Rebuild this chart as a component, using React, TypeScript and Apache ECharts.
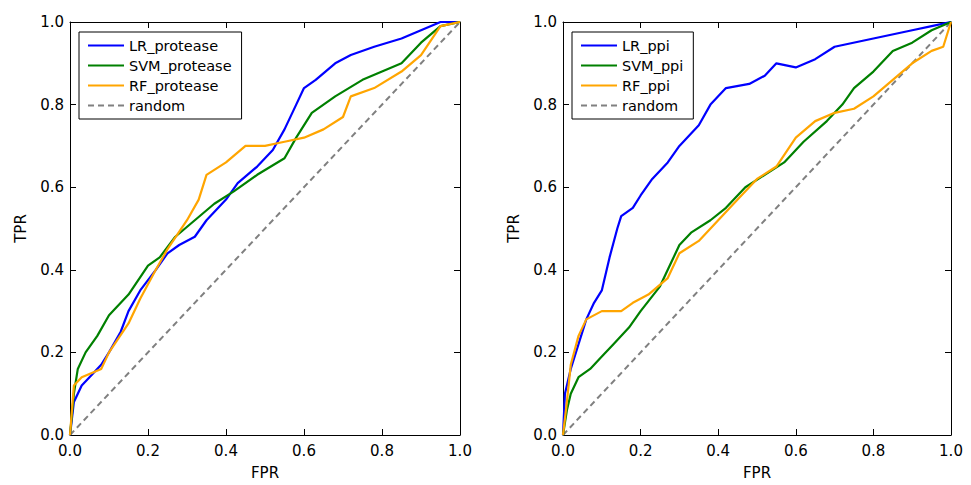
import React, { useEffect, useRef } from "react";
import * as echarts from "echarts";

const lrProtease = [[0,0],[0.01,0.08],[0.03,0.12],[0.05,0.14],[0.08,0.17],[0.1,0.2],[0.13,0.25],[0.15,0.3],[0.18,0.35],[0.22,0.4],[0.25,0.44],[0.28,0.46],[0.32,0.48],[0.35,0.52],[0.4,0.57],[0.43,0.61],[0.48,0.65],[0.52,0.69],[0.55,0.74],[0.58,0.8],[0.6,0.84],[0.63,0.86],[0.68,0.9],[0.72,0.92],[0.78,0.94],[0.85,0.96],[0.9,0.98],[0.95,1.0],[1,1]];
const svmProtease = [[0,0],[0.01,0.1],[0.02,0.16],[0.04,0.2],[0.07,0.24],[0.1,0.29],[0.15,0.34],[0.2,0.41],[0.23,0.43],[0.27,0.48],[0.32,0.52],[0.37,0.56],[0.42,0.59],[0.48,0.63],[0.55,0.67],[0.58,0.72],[0.62,0.78],[0.68,0.82],[0.75,0.86],[0.8,0.88],[0.85,0.9],[0.9,0.95],[0.95,0.99],[1,1]];
const rfProtease = [[0,0],[0.01,0.12],[0.03,0.14],[0.08,0.16],[0.1,0.2],[0.15,0.27],[0.18,0.33],[0.22,0.4],[0.25,0.45],[0.3,0.52],[0.33,0.57],[0.35,0.63],[0.4,0.66],[0.45,0.7],[0.5,0.7],[0.55,0.71],[0.6,0.72],[0.65,0.74],[0.7,0.77],[0.72,0.82],[0.78,0.84],[0.85,0.88],[0.9,0.92],[0.95,0.99],[1,1]];
const lrPpi = [[0,0],[0.005,0.1],[0.02,0.16],[0.04,0.22],[0.06,0.28],[0.08,0.32],[0.1,0.35],[0.12,0.43],[0.14,0.5],[0.15,0.53],[0.18,0.55],[0.2,0.58],[0.23,0.62],[0.27,0.66],[0.3,0.7],[0.35,0.75],[0.38,0.8],[0.42,0.84],[0.48,0.85],[0.52,0.87],[0.55,0.9],[0.6,0.89],[0.65,0.91],[0.7,0.94],[0.8,0.96],[0.9,0.98],[0.95,0.99],[1,1]];
const svmPpi = [[0,0],[0.01,0.06],[0.02,0.1],[0.04,0.14],[0.07,0.16],[0.1,0.19],[0.13,0.22],[0.17,0.26],[0.2,0.3],[0.25,0.36],[0.28,0.42],[0.3,0.46],[0.33,0.49],[0.38,0.52],[0.42,0.55],[0.47,0.6],[0.52,0.63],[0.57,0.66],[0.62,0.71],[0.68,0.76],[0.72,0.8],[0.75,0.84],[0.8,0.88],[0.85,0.93],[0.9,0.95],[0.95,0.98],[1,1]];
const rfPpi = [[0,0],[0.01,0.08],[0.02,0.17],[0.04,0.24],[0.06,0.28],[0.1,0.3],[0.15,0.3],[0.18,0.32],[0.22,0.34],[0.27,0.38],[0.3,0.44],[0.35,0.47],[0.4,0.52],[0.45,0.57],[0.5,0.62],[0.55,0.65],[0.6,0.72],[0.65,0.76],[0.7,0.78],[0.75,0.79],[0.8,0.82],[0.85,0.86],[0.9,0.9],[0.95,0.93],[0.98,0.94],[1,1]];
const randomLine = [[0,0],[1,1]];

const FONT = "DejaVu Sans";

export default function App() {
  const ref = useRef<HTMLDivElement>(null);
  useEffect(() => {
    const chart = echarts.init(ref.current!, undefined, { renderer: "svg" });
    const mkX = (g: number, pos: string, main: boolean) => ({
      type: "value", gridIndex: g, min: 0, max: 1, interval: 0.2, position: pos,
      name: main ? "FPR" : "", nameLocation: "middle", nameGap: 30,
      nameTextStyle: { fontFamily: FONT, fontSize: 15, color: "#000" },
      axisLine: { show: true, onZero: false, lineStyle: { color: "#000", width: 1 } },
      axisTick: { show: true, inside: true, length: 6, lineStyle: { color: "#000" } },
      axisLabel: { show: main, fontFamily: FONT, fontSize: 15, color: "#000", margin: 8, formatter: (v: number) => v.toFixed(1) },
      splitLine: { show: false },
    });
    const mkY = (g: number, pos: string, main: boolean) => ({
      type: "value", gridIndex: g, min: 0, max: 1, interval: 0.2, position: pos,
      name: main ? "TPR" : "", nameLocation: "middle", nameGap: 42,
      nameTextStyle: { fontFamily: FONT, fontSize: 15, color: "#000" },
      axisLine: { show: true, onZero: false, lineStyle: { color: "#000", width: 1 } },
      axisTick: { show: true, inside: true, length: 6, lineStyle: { color: "#000" } },
      axisLabel: { show: main, fontFamily: FONT, fontSize: 15, color: "#000", margin: 6, formatter: (v: number) => v.toFixed(1) },
      splitLine: { show: false },
    });
    const line = (name: string, data: number[][], color: string, idx: number, dashed = false) => ({
      type: "line", name, data, xAxisIndex: idx, yAxisIndex: idx, showSymbol: false, symbol: "none",
      lineStyle: { color, width: dashed ? 2 : 2.2, type: dashed ? [6, 4] : "solid" }, itemStyle: { color },
      z: dashed ? 1 : 2,
    });
    const legendBase = {
      orient: "vertical", top: 32, borderColor: "#000", borderWidth: 1, backgroundColor: "#fff",
      padding: [6, 10, 6, 8], itemGap: 5, itemWidth: 36, itemHeight: 10,
      itemStyle: { opacity: 0 },
      textStyle: { fontFamily: FONT, fontSize: 14.5, color: "#000" },
    };
    chart.setOption({
      animation: false,
      grid: [
        { left: 70, top: 22, width: 390, height: 419 },
        { left: 563, top: 22, width: 388, height: 419 },
      ],
      xAxis: [mkX(0, "bottom", true), mkX(1, "bottom", true), mkX(0, "top", false), mkX(1, "top", false)],
      yAxis: [mkY(0, "left", true), mkY(1, "left", true), mkY(0, "right", false), mkY(1, "right", false)],
      legend: [
        { ...legendBase, left: 79, data: ["LR_protease", "SVM_protease", "RF_protease", "random"] },
        { ...legendBase, left: 572, data: ["LR_ppi", "SVM_ppi", "RF_ppi", "random "] },
      ],
      series: [
        line("LR_protease", lrProtease, "#0000ff", 0),
        line("SVM_protease", svmProtease, "#008000", 0),
        line("RF_protease", rfProtease, "#ffa500", 0),
        line("random", randomLine, "#808080", 0, true),
        line("LR_ppi", lrPpi, "#0000ff", 1),
        line("SVM_ppi", svmPpi, "#008000", 1),
        line("RF_ppi", rfPpi, "#ffa500", 1),
        line("random ", randomLine, "#808080", 1, true),
      ],
    });
    return () => chart.dispose();
  }, []);
  return <div ref={ref} style={{ position: "fixed", left: 0, top: 0, width: 971, height: 485, background: "#fff" }} />;
}
